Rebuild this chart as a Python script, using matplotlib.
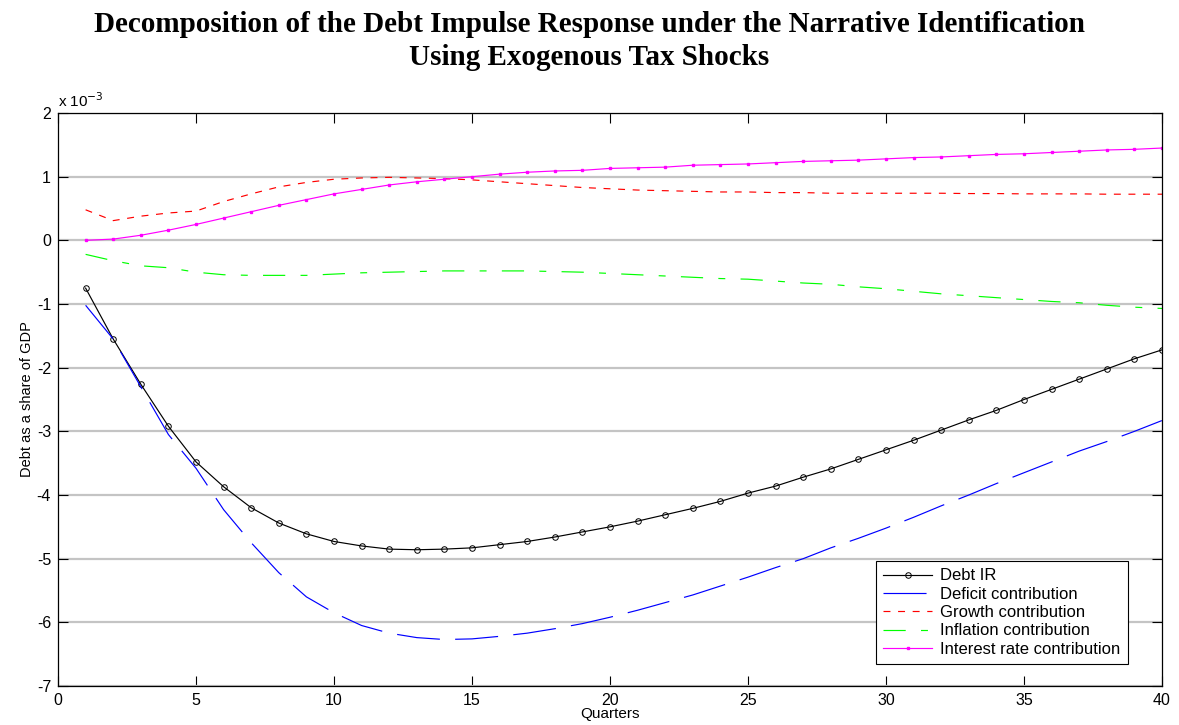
import numpy as np
import matplotlib
matplotlib.use('Agg')
from matplotlib import pyplot as plt
from matplotlib.ticker import FuncFormatter

plt.rcParams['font.family'] = ['Liberation Sans', 'DejaVu Sans']
plt.rcParams['lines.scale_dashes'] = False

quarters = np.arange(1, 41)

# responses in units of 1e-3 (share of GDP)
debt_ir = [-0.75, -1.55, -2.26, -2.92, -3.48, -3.87, -4.20, -4.44, -4.61, -4.73,
           -4.80, -4.85, -4.86, -4.85, -4.83, -4.78, -4.73, -4.66, -4.58, -4.50,
           -4.41, -4.31, -4.21, -4.10, -3.97, -3.86, -3.72, -3.59, -3.44, -3.29,
           -3.14, -2.98, -2.82, -2.67, -2.50, -2.34, -2.18, -2.02, -1.86, -1.72]
deficit = [-1.02, -1.55, -2.30, -3.05, -3.58, -4.23, -4.75, -5.22, -5.60, -5.85,
           -6.05, -6.17, -6.24, -6.27, -6.26, -6.22, -6.17, -6.10, -6.02, -5.92,
           -5.81, -5.69, -5.57, -5.43, -5.29, -5.14, -5.00, -4.83, -4.68, -4.52,
           -4.35, -4.17, -4.00, -3.82, -3.65, -3.48, -3.31, -3.16, -3.00, -2.83]
growth = [0.48, 0.31, 0.38, 0.43, 0.46, 0.61, 0.73, 0.84, 0.91, 0.96,
          0.98, 0.99, 0.98, 0.97, 0.95, 0.92, 0.89, 0.86, 0.83, 0.81,
          0.79, 0.78, 0.77, 0.76, 0.76, 0.75, 0.75, 0.74, 0.74, 0.74,
          0.74, 0.74, 0.735, 0.735, 0.73, 0.73, 0.73, 0.725, 0.725, 0.725]
inflation = [-0.22, -0.32, -0.40, -0.43, -0.50, -0.54, -0.55, -0.55, -0.55, -0.53,
             -0.51, -0.50, -0.49, -0.48, -0.48, -0.48, -0.48, -0.49, -0.50, -0.52,
             -0.54, -0.56, -0.58, -0.60, -0.61, -0.64, -0.67, -0.69, -0.73, -0.76,
             -0.80, -0.84, -0.87, -0.90, -0.93, -0.96, -0.98, -1.02, -1.05, -1.07]
interest = [0.00, 0.02, 0.08, 0.16, 0.25, 0.35, 0.45, 0.55, 0.64, 0.73,
            0.80, 0.87, 0.92, 0.96, 1.00, 1.04, 1.07, 1.09, 1.10, 1.13,
            1.14, 1.15, 1.18, 1.19, 1.20, 1.22, 1.24, 1.25, 1.26, 1.28,
            1.30, 1.31, 1.33, 1.35, 1.36, 1.38, 1.40, 1.42, 1.43, 1.45]

scale = 1e-3

fig = plt.figure(figsize=(11.79, 7.25), dpi=100)
ax = fig.add_axes([0.0492, 0.0538, 0.9364, 0.7903])

lw = 0.85
ax.plot(quarters, np.array(debt_ir) * scale, color='black', lw=lw, marker='o',
        markersize=4, markerfacecolor='none', markeredgewidth=0.7, label='Debt IR')
ax.plot(quarters, np.array(deficit) * scale, color='blue', lw=lw,
        dashes=(31, 11), label='Deficit contribution')
ax.plot(quarters, np.array(growth) * scale, color='red', lw=lw,
        dashes=(5, 5.5), label='Growth contribution')
ax.plot(quarters, np.array(inflation) * scale, color='lime', lw=lw,
        dashes=(16, 11, 5, 11), label='Inflation contribution')
ax.plot(quarters, np.array(interest) * scale, color='magenta', lw=lw, marker='s',
        markersize=1.8, label='Interest rate contribution')

ax.set_xlim(0, 40)
ax.set_ylim(-7e-3, 2e-3)
ax.set_xticks(np.arange(0, 41, 5))
ax.set_yticks(np.arange(-7, 3) * scale)
ax.yaxis.set_major_formatter(FuncFormatter(lambda v, p: '%d' % round(v / scale)))
ax.yaxis.grid(True, color='#c4c4c4', lw=1.6)
ax.set_axisbelow(True)
ax.tick_params(direction='in', length=7, width=0.8, top=True, right=True,
               labelsize=11.5, pad=5)
for s in ax.spines.values():
    s.set_linewidth(0.9)

ax.text(0, 1.006, r'x 10$^{-3}$', transform=ax.transAxes, fontsize=11,
        ha='left', va='bottom')

ax.set_xlabel('Quarters', fontsize=11, labelpad=-1)
ax.set_ylabel('Debt as a share of GDP', fontsize=10.5, labelpad=2)

leg = ax.legend(loc='lower right', bbox_to_anchor=(0.969, 0.038), borderaxespad=0,
                fontsize=12, handlelength=2.9, labelspacing=0.2, fancybox=False,
                framealpha=1, edgecolor='black', borderpad=0.45, handletextpad=0.5)
leg.get_frame().set_linewidth(0.8)

fig.suptitle('Decomposition of the Debt Impulse Response under the Narrative Identification\n'
             'Using Exogenous Tax Shocks', y=0.985, fontsize=21, fontweight='bold',
             family='Liberation Serif', linespacing=1.3, va='top')

fig.savefig('out.png', dpi=100)
